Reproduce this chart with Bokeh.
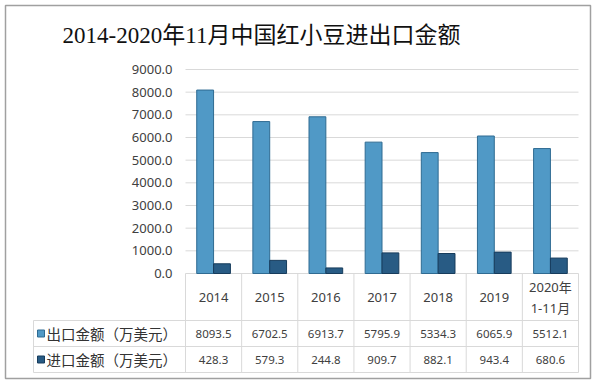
from bokeh.plotting import figure
from bokeh.models import Range1d
from bokeh.core.properties import value
from bokeh.embed import file_html
from bokeh.resources import INLINE

# ---------------- data ----------------
title_text = "2014-2020年11月中国红小豆进出口金额"
categories = ["2014", "2015", "2016", "2017", "2018", "2019", "2020年\n1-11月"]
export_vals = [8093.5, 6702.5, 6913.7, 5795.9, 5334.3, 6065.9, 5512.1]
import_vals = [428.3, 579.3, 244.8, 909.7, 882.1, 943.4, 680.6]
series_names = ["出口金额（万美元）", "进口金额（万美元）"]
y_ticks = [0, 1000, 2000, 3000, 4000, 5000, 6000, 7000, 8000, 9000]

# ---------------- layout (pixels on page) ----------------
W, H = 600, 382
LEFT, TOP = 0, 0
PX_CAT0, PX_CATN = 185, 578
PY_ZERO, PY_TOP = 273, 69
n = len(categories)
sx = (PX_CATN - PX_CAT0) / n
sy = (PY_ZERO - PY_TOP) / y_ticks[-1]
x_start = -(PX_CAT0 - LEFT) / sx
x_end = x_start + W / sx
y_end = y_ticks[-1] + (PY_TOP - TOP) / sy
y_start = y_end - H / sy


def X(px):
    return x_start + (px - LEFT) / sx


def Y(py):
    return y_end - (py - TOP) / sy


EXP_COLOR = "#5099c6"
EXP_LINE = "#2f6b92"
IMP_COLOR = "#285b84"
IMP_LINE = "#173c5c"
GRID = "#d9d9d9"
TXT = "#404040"
CJK = "'Noto Sans CJK SC'"
NUM = "'Noto Sans', 'Noto Sans CJK SC'"

p = figure(width=W, height=H, output_backend="svg", toolbar_location=None,
           x_range=Range1d(x_start, x_end), y_range=Range1d(y_start, y_end),
           x_axis_location=None, y_axis_location=None, min_border=0,
           title=None, tools="")
p.grid.visible = False
p.outline_line_color = None
p.background_fill_color = "white"
p.border_fill_color = "white"

# card border
p.quad(left=[X(5)], right=[X(590)], top=[Y(5)], bottom=[Y(378)],
       fill_color="white", line_color="#a0a0a0", line_width=1.5)

# title
p.text(x=[X(261)], y=[Y(35)], text=[title_text], text_align="center",
       text_baseline="middle", text_font_size="23px", text_color="#111111",
       text_font=value("'Liberation Serif', 'Noto Sans CJK SC'"))

# gridlines
p.segment(x0=[0] * len(y_ticks), x1=[n] * len(y_ticks), y0=y_ticks, y1=y_ticks,
          line_color=GRID, line_width=1)

# y tick labels
p.text(x=[X(172)] * len(y_ticks), y=y_ticks, text=[f"{t:.1f}" for t in y_ticks],
       text_align="right", text_baseline="middle", text_font_size="13px",
       text_color=TXT, text_font=value(NUM))

# bars
xs = [i + 0.5 for i in range(n)]
p.vbar(x=[c - 0.15 for c in xs], top=export_vals, bottom=0, width=0.3,
       fill_color=EXP_COLOR, line_color=EXP_LINE, line_width=1)
p.vbar(x=[c + 0.15 for c in xs], top=import_vals, bottom=0, width=0.3,
       fill_color=IMP_COLOR, line_color=IMP_LINE, line_width=1)

# table lines
y_bottom = Y(372)
p.segment(x0=list(range(n + 1)), x1=list(range(n + 1)),
          y0=[0] * (n + 1), y1=[y_bottom] * (n + 1), line_color=GRID, line_width=1)
row_lines = [Y(320), Y(346), Y(372)]
p.segment(x0=[X(33)] * 3, x1=[n] * 3, y0=row_lines, y1=row_lines,
          line_color=GRID, line_width=1)
p.segment(x0=[X(33)], x1=[X(33)], y0=[Y(320)], y1=[y_bottom],
          line_color=GRID, line_width=1)

# header
p.text(x=xs, y=[Y(297)] * n, text=categories, text_align="center",
       text_baseline="middle", text_font_size="13px", text_color=TXT,
       text_line_height=1.15, text_font=value(NUM))

# value rows
row_y = [Y(333), Y(359)]
p.text(x=xs, y=[row_y[0]] * n, text=[f"{v:.1f}" for v in export_vals],
       text_align="center", text_baseline="middle", text_font_size="11.5px",
       text_color=TXT, text_font=value(NUM))
p.text(x=xs, y=[row_y[1]] * n, text=[f"{v:.1f}" for v in import_vals],
       text_align="center", text_baseline="middle", text_font_size="11.5px",
       text_color=TXT, text_font=value(NUM))

# legend keys and labels in table
p.scatter(x=[X(40.5)] * 2, y=row_y, marker="square", size=7,
          fill_color=[EXP_COLOR, IMP_COLOR], line_color=[EXP_LINE, IMP_LINE])
p.text(x=[X(46)] * 2, y=row_y, text=series_names, text_align="left",
       text_baseline="middle", text_font_size="14.5px", text_color="#333333",
       text_font=value(CJK))

open("out.html", "w").write(file_html(p, INLINE))
